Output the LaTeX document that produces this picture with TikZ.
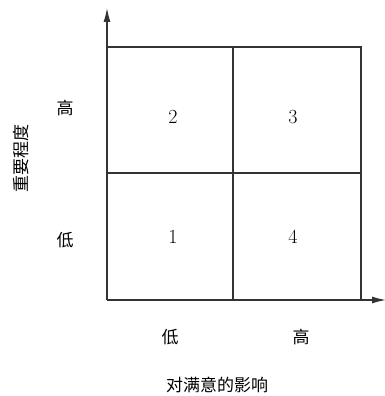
\documentclass[tikz,border=0pt]{standalone}
\usepackage{fontspec}
\newfontfamily\cjk{Noto Sans CJK SC}
\usetikzlibrary{arrows.meta}
\tikzset{
  cell/.style={font=\fontsize{20}{22}\selectfont},
  lab/.style={font=\cjk\fontsize{17}{19}\selectfont},
  grid line/.style={line width=1.2pt, black!80},
  axis/.style={grid line,-{Latex[length=14pt,width=7pt]}}
}
\begin{document}
\begin{tikzpicture}[x=1pt,y=-1pt]
\useasboundingbox (0,0) rectangle (385,396);
% axes
\coordinate (O) at (107,300);
\coordinate (ytop) at (107,8);
\coordinate (xend) at (386,300);
\draw[axis] (O) -- (ytop);
\draw[axis] (O) -- (xend);
% quadrants
\draw[grid line] (107,47) -- (361,47) -- (361,300);
\draw[grid line] (107,173) -- (361,173);
\draw[grid line] (233,47) -- (233,300);
\node[cell] (q2) at (173,117) {2};
\node[cell] (q3) at (293,117) {3};
\node[cell] (q1) at (173,237) {1};
\node[cell] (q4) at (293,237) {4};
% labels
\node[lab] (yhi) at (65,108) {高};
\node[lab] (ylo) at (65,240) {低};
\node[lab,rotate=90] (ytitle) at (21,158) {重要程度};
\node[lab] (xlo) at (170,337) {低};
\node[lab] (xhi) at (301,337) {高};
\node[lab] (xtitle) at (217,385) {对满意的影响};
\end{tikzpicture}
\end{document}
